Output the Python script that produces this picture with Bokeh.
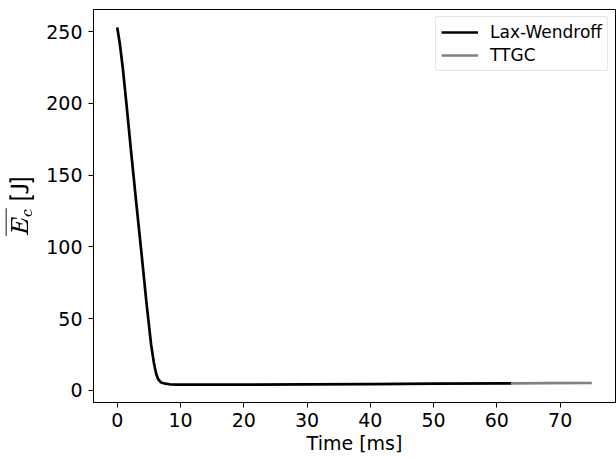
from bokeh.plotting import figure
from bokeh.models import Range1d, FixedTicker, Legend, LegendItem
from bokeh.embed import file_html
from bokeh.resources import INLINE

# Data
time_lw = [0.0, 0.4, 0.9, 1.45, 2.2, 3.0, 3.8, 4.6, 5.35, 5.8, 6.15, 6.5, 6.95,
           7.6, 8.3, 9.5, 12.0, 20.0, 30.0, 40.0, 50.0, 62.3]
ec_lw = [253.0, 242.0, 224.0, 200.0, 166.0, 131.0, 97.0, 62.0, 32.0, 19.0, 11.5,
         7.5, 5.4, 4.6, 4.2, 4.0, 3.9, 3.9, 4.1, 4.3, 4.6, 4.9]
time_ttgc = [62.3, 68.0, 75.0]
ec_ttgc = [4.9, 5.0, 5.1]

x_ticks = [0, 10, 20, 30, 40, 50, 60, 70]
y_ticks = [0, 50, 100, 150, 200, 250]

FONT = "DejaVu Sans"
FS = "19px"
LEG_FS = "17px"

p = figure(width=616, height=459, output_backend="svg", toolbar_location=None,
           x_range=Range1d(-3.75, 78.75), y_range=Range1d(-8.5, 265.5),
           min_border_left=89, min_border_right=1, min_border_top=9,
           min_border_bottom=57)

p.background_fill_color = "white"
p.border_fill_color = "white"
p.outline_line_color = "black"
p.outline_line_width = 1
p.grid.visible = False

for ax in (p.xaxis[0], p.yaxis[0]):
    ax.major_label_text_font = FONT
    ax.major_label_text_font_size = FS
    ax.major_label_text_color = "black"
    ax.axis_label_text_font = FONT
    ax.axis_label_text_font_size = FS
    ax.axis_label_text_font_style = "normal"
    ax.axis_label_text_color = "black"
    ax.minor_tick_line_color = None
    ax.major_tick_in = 0
    ax.major_tick_out = 5
    ax.major_tick_line_color = "black"
    ax.axis_line_color = "black"

p.xaxis.ticker = FixedTicker(ticks=x_ticks)
p.yaxis.ticker = FixedTicker(ticks=y_ticks)
p.xaxis.major_label_standoff = 5
p.yaxis.major_label_standoff = 6
p.xaxis.axis_label = "Time [ms]"
p.yaxis.axis_label = r"$$\overline{E_c}\ \mathsf{[J]}$$"
p.xaxis.axis_label_standoff = 2
p.yaxis.axis_label_standoff = 9

r1 = p.line(time_lw, ec_lw, line_color="black", line_width=2.7)
r2 = p.line(time_ttgc, ec_ttgc, line_color="#808080", line_width=2.7)

legend = Legend(items=[LegendItem(label="Lax-Wendroff", renderers=[r1]),
                       LegendItem(label="TTGC", renderers=[r2])],
                location="top_right")
legend.label_text_font = FONT
legend.label_text_font_size = LEG_FS
legend.label_text_color = "black"
legend.glyph_width = 37
legend.glyph_height = 20
legend.label_height = 20
legend.label_standoff = 12
legend.spacing = 3
legend.padding = 5
legend.margin = 7
legend.border_line_color = "#cccccc"
legend.border_line_width = 1
legend.border_radius = 3
legend.background_fill_alpha = 0.8
p.add_layout(legend)

open("out.html", "w").write(file_html(p, INLINE))
